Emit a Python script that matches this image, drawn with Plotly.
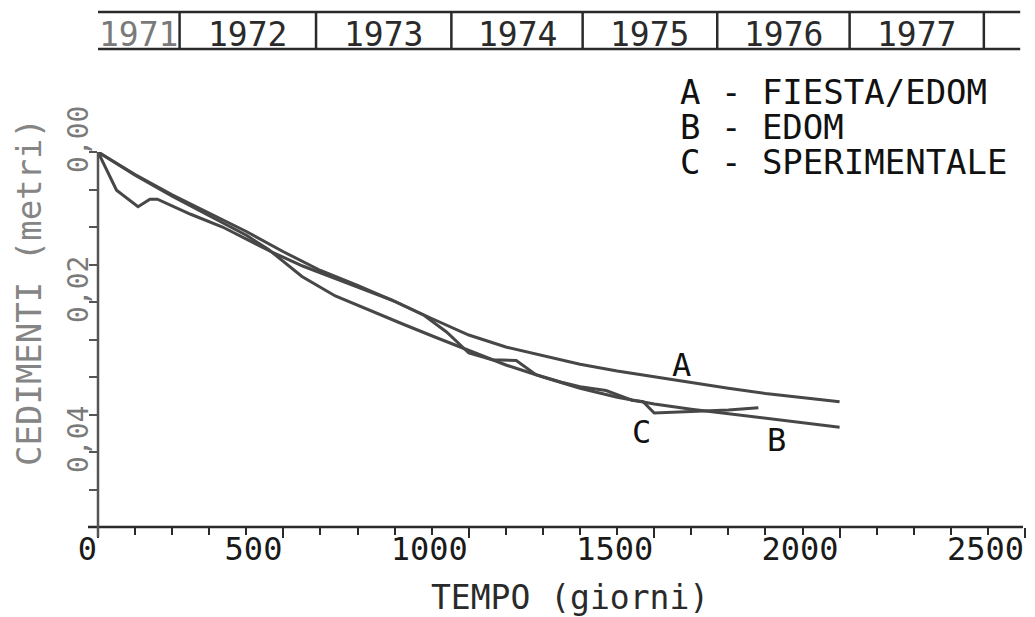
import plotly.graph_objects as go

# --- settlement curves: time (days) vs settlement (metres) ---
days_a = [0, 100, 200, 300, 400, 500, 600, 700, 800, 900, 1000, 1100, 1200,
          1300, 1400, 1500, 1600, 1700, 1800, 1900, 2000]
sett_a = [0.0, 0.0030, 0.0057, 0.0081, 0.0106, 0.0133, 0.0158, 0.0178, 0.0199,
          0.0222, 0.0244, 0.0260, 0.0272, 0.0283, 0.0292, 0.0300, 0.0308,
          0.0315, 0.0322, 0.0328, 0.0333]

days_b = [0, 100, 200, 300, 400, 460, 550, 640, 730, 820, 910, 1000, 1100,
          1200, 1300, 1400, 1500, 1600, 1700, 1800, 1900, 2000]
sett_b = [0.0, 0.0031, 0.0059, 0.0085, 0.0111, 0.0130, 0.0166, 0.0192, 0.0211,
          0.0229, 0.0247, 0.0265, 0.0284, 0.0300, 0.0315, 0.0327, 0.0336,
          0.0343, 0.0349, 0.0355, 0.0361, 0.0367]

days_c = [0, 50, 108, 140, 160, 250, 336, 420, 463, 552, 650, 700, 790, 880,
          940, 1000, 1063, 1128, 1181, 1250, 1300, 1370, 1440, 1470, 1500,
          1600, 1700, 1781]
sett_c = [0.0, 0.0051, 0.0073, 0.0063, 0.0063, 0.0083, 0.0100, 0.0121, 0.0132,
          0.0152, 0.0170, 0.0180, 0.0197, 0.0218, 0.0240, 0.0268, 0.0277,
          0.0278, 0.0297, 0.0307, 0.0313, 0.0318, 0.0331, 0.0333, 0.0348,
          0.0346, 0.0344, 0.0341]

curve_names = ["A", "B", "C"]
legend_lines = ["A - FIESTA/EDOM", "B - EDOM", "C - SPERIMENTALE"]

x_ticks = [0, 500, 1000, 1500, 2000, 2500]
y_ticks = [0.0, 0.02, 0.04]
y_tick_text = ["0,00", "0,02", "0,04"]

# calendar band above the plot: year names and their boundaries in days
years = ["1971", "1972", "1973", "1974", "1975", "1976", "1977"]
year_bounds = [0, 220, 588, 953, 1307, 1670, 2027, 2389]
band_end = 2487

FONT = "DejaVu Sans Mono"
INK = "#2a2a2a"
CURVE = "#474747"
GREY = "#7a7a7a"

W, H = 1035, 617
ML, MR, MT, MB = 98, 10, 152, 90
PW, PH = W - ML - MR, H - MT - MB


def px_x(p):
    return (p - ML) / PW


def px_y(p):
    return (H - MB - p) / PH


fig = go.Figure()
for d, s in ((days_a, sett_a), (days_b, sett_b), (days_c, sett_c)):
    fig.add_trace(go.Scatter(x=d, y=s, mode="lines",
                             line=dict(color=CURVE, width=3),
                             showlegend=False, hoverinfo="skip"))

shapes = []
# axis lines, crossing slightly at the origin
shapes.append(dict(type="line", xref="paper", yref="paper",
                   x0=px_x(88), x1=px_x(1023), y0=0, y1=0,
                   line=dict(color=INK, width=2.5)))
shapes.append(dict(type="line", xref="paper", yref="paper",
                   x0=0, x1=0, y0=px_y(537), y1=1,
                   line=dict(color="#555555", width=2.5)))

# year band
band_top, band_bot = px_y(12), px_y(49)
for yy in (band_top, band_bot):
    shapes.append(dict(type="line", xref="x", yref="paper",
                       x0=year_bounds[0], x1=band_end, y0=yy, y1=yy,
                       line=dict(color=INK, width=2.5)))
for b in year_bounds[1:]:
    shapes.append(dict(type="line", xref="x", yref="paper",
                       x0=b, x1=b, y0=band_bot, y1=band_top,
                       line=dict(color=INK, width=2.5)))

annotations = []
for i, yr in enumerate(years):
    mid = (year_bounds[i] + year_bounds[i + 1]) / 2
    annotations.append(dict(x=mid, y=px_y(34), xref="x", yref="paper",
                            text=yr, showarrow=False,
                            xanchor="center", yanchor="middle",
                            font=dict(family=FONT, size=33,
                                      color=GREY if i == 0 else INK)))

# legend block
for i, line in enumerate(legend_lines):
    annotations.append(dict(x=px_x(678), y=px_y(92 + 35 * i), xref="paper",
                            yref="paper", text=line, showarrow=False,
                            xanchor="left", yanchor="middle",
                            font=dict(family=FONT, size=34, color="#111111")))

# curve letters
label_pos = {"A": (1574, 0.0284), "B": (1830, 0.0384), "C": (1467, 0.0373)}
for name in curve_names:
    lx, ly = label_pos[name]
    annotations.append(dict(x=lx, y=ly, xref="x", yref="y", text=name,
                            showarrow=False, xanchor="center",
                            yanchor="middle",
                            font=dict(family=FONT, size=32, color="#111111")))

# rotated y tick labels, set just above each tick
for v, t in zip(y_ticks, y_tick_text):
    annotations.append(dict(x=px_x(78), y=v, xref="paper", yref="y",
                            yshift=12, text=t, showarrow=False,
                            textangle=-90, xanchor="center",
                            yanchor="middle",
                            font=dict(family=FONT, size=28, color="#7a7a7a")))

# axis titles
annotations.append(dict(x=px_x(570), y=px_y(597), xref="paper", yref="paper",
                        text="TEMPO (giorni)", showarrow=False,
                        xanchor="center", yanchor="middle",
                        font=dict(family=FONT, size=33, color=INK)))
annotations.append(dict(x=px_x(29), y=px_y(292), xref="paper", yref="paper",
                        text="CEDIMENTI (metri)", showarrow=False,
                        textangle=-90, xanchor="center", yanchor="middle",
                        font=dict(family=FONT, size=34, color="#858585")))

fig.update_layout(
    width=W, height=H,
    margin=dict(l=ML, r=MR, t=MT, b=MB, autoexpand=False),
    paper_bgcolor="white", plot_bgcolor="white",
    separators=",.",
    shapes=shapes, annotations=annotations,
    showlegend=False,
)
fig.update_xaxes(
    range=[0, 2500], showgrid=False, zeroline=False, showline=False,
    tickvals=x_ticks, ticktext=[str(v) for v in x_ticks],
    ticks="outside", ticklen=10, tickwidth=2, tickcolor=INK,
    ticklabelposition="outside left", ticklabelstandoff=-6,
    tickfont=dict(family=FONT, size=32, color="#1a1a1a"),
    minor=dict(ticks="outside", ticklen=7, tickwidth=2, tickcolor=INK,
               dtick=100, tick0=0, showgrid=False),
    automargin=False,
)
fig.update_yaxes(
    range=[0.05, 0.0], showgrid=False, zeroline=False, showline=False,
    tickvals=y_ticks, showticklabels=False,
    ticks="outside", ticklen=8, tickwidth=2, tickcolor="#555555",
    minor=dict(ticks="outside", ticklen=8, tickwidth=2, tickcolor="#555555",
               dtick=0.005, tick0=0, showgrid=False),
    automargin=False,
)

fig.write_html("out.html")
